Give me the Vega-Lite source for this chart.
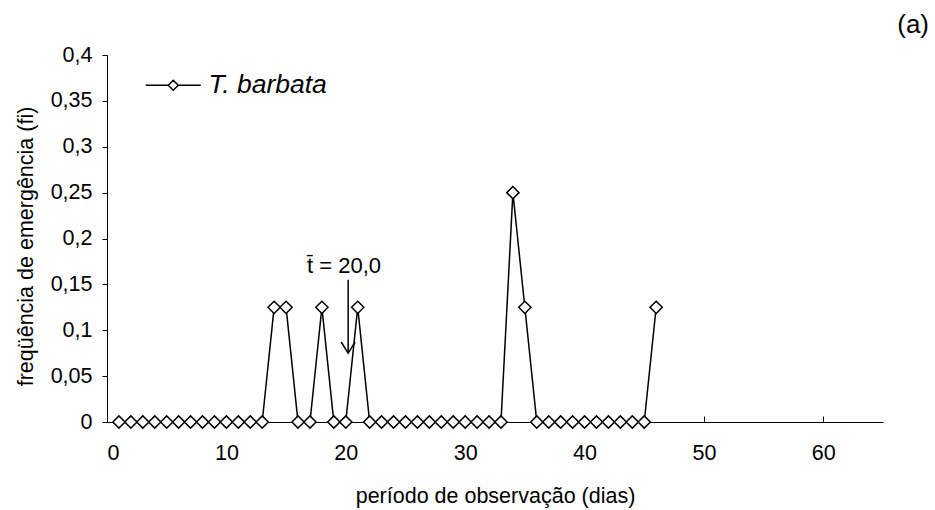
{
  "$schema": "https://vega.github.io/schema/vega-lite/v6.json",
  "width": 776,
  "height": 367,
  "autosize": {"type": "none"},
  "padding": {"left": 107, "top": 55, "right": 52, "bottom": 88},
  "background": "white",
  "config": {
    "view": {"stroke": null},
    "font": "Liberation Sans",
    "axis": {
      "grid": false,
      "domainColor": "black",
      "tickColor": "black",
      "labelColor": "black",
      "titleColor": "black",
      "labelFont": "Liberation Sans",
      "titleFont": "Liberation Sans",
      "labelFontSize": 21.5,
      "titleFontSize": 21.5,
      "titleFontWeight": "normal"
    }
  },
  "title": {
    "text": "(a)",
    "anchor": "end",
    "frame": "group",
    "font": "Liberation Sans",
    "fontSize": 26,
    "fontWeight": "normal",
    "color": "black",
    "baseline": "middle",
    "dx": 46,
    "dy": 41,
    "offset": 34
  },
  "datasets": {
    "main": [
      {"dia": 1, "fi": 0, "serie": "T. barbata"},
      {"dia": 2, "fi": 0, "serie": "T. barbata"},
      {"dia": 3, "fi": 0, "serie": "T. barbata"},
      {"dia": 4, "fi": 0, "serie": "T. barbata"},
      {"dia": 5, "fi": 0, "serie": "T. barbata"},
      {"dia": 6, "fi": 0, "serie": "T. barbata"},
      {"dia": 7, "fi": 0, "serie": "T. barbata"},
      {"dia": 8, "fi": 0, "serie": "T. barbata"},
      {"dia": 9, "fi": 0, "serie": "T. barbata"},
      {"dia": 10, "fi": 0, "serie": "T. barbata"},
      {"dia": 11, "fi": 0, "serie": "T. barbata"},
      {"dia": 12, "fi": 0, "serie": "T. barbata"},
      {"dia": 13, "fi": 0, "serie": "T. barbata"},
      {"dia": 14, "fi": 0.125, "serie": "T. barbata"},
      {"dia": 15, "fi": 0.125, "serie": "T. barbata"},
      {"dia": 16, "fi": 0, "serie": "T. barbata"},
      {"dia": 17, "fi": 0, "serie": "T. barbata"},
      {"dia": 18, "fi": 0.125, "serie": "T. barbata"},
      {"dia": 19, "fi": 0, "serie": "T. barbata"},
      {"dia": 20, "fi": 0, "serie": "T. barbata"},
      {"dia": 21, "fi": 0.125, "serie": "T. barbata"},
      {"dia": 22, "fi": 0, "serie": "T. barbata"},
      {"dia": 23, "fi": 0, "serie": "T. barbata"},
      {"dia": 24, "fi": 0, "serie": "T. barbata"},
      {"dia": 25, "fi": 0, "serie": "T. barbata"},
      {"dia": 26, "fi": 0, "serie": "T. barbata"},
      {"dia": 27, "fi": 0, "serie": "T. barbata"},
      {"dia": 28, "fi": 0, "serie": "T. barbata"},
      {"dia": 29, "fi": 0, "serie": "T. barbata"},
      {"dia": 30, "fi": 0, "serie": "T. barbata"},
      {"dia": 31, "fi": 0, "serie": "T. barbata"},
      {"dia": 32, "fi": 0, "serie": "T. barbata"},
      {"dia": 33, "fi": 0, "serie": "T. barbata"},
      {"dia": 34, "fi": 0.25, "serie": "T. barbata"},
      {"dia": 35, "fi": 0.125, "serie": "T. barbata"},
      {"dia": 36, "fi": 0, "serie": "T. barbata"},
      {"dia": 37, "fi": 0, "serie": "T. barbata"},
      {"dia": 38, "fi": 0, "serie": "T. barbata"},
      {"dia": 39, "fi": 0, "serie": "T. barbata"},
      {"dia": 40, "fi": 0, "serie": "T. barbata"},
      {"dia": 41, "fi": 0, "serie": "T. barbata"},
      {"dia": 42, "fi": 0, "serie": "T. barbata"},
      {"dia": 43, "fi": 0, "serie": "T. barbata"},
      {"dia": 44, "fi": 0, "serie": "T. barbata"},
      {"dia": 45, "fi": 0, "serie": "T. barbata"},
      {"dia": 46, "fi": 0.125, "serie": "T. barbata"}
    ],
    "media": [
      {"dia": 20.2, "inicio": 0.155, "fim": 0.075, "rotulo": "t̄ = 20,0", "rotulo_dia": 19.85, "rotulo_fi": 0.1705}
    ]
  },
  "layer": [
    {
      "data": {"name": "main"},
      "mark": {"type": "line", "strokeWidth": 1.5},
      "encoding": {
        "x": {
          "field": "dia",
          "type": "quantitative",
          "scale": {"domain": [0, 65], "nice": false, "zero": false},
          "axis": {
            "title": "período de observação (dias)",
            "values": [0, 10, 20, 30, 40, 50, 60],
            "tickSize": -6,
            "labelPadding": 26,
            "titleX": 388,
            "titleY": 74,
            "titleBaseline": "middle",
            "titleAlign": "center"
          }
        },
        "y": {
          "field": "fi",
          "type": "quantitative",
          "scale": {"domain": [0, 0.4], "nice": false},
          "axis": {
            "title": "freqüência de emergência (fi)",
            "values": [0, 0.05, 0.1, 0.15, 0.2, 0.25, 0.3, 0.35, 0.4],
            "labelExpr": "replace(format(datum.value, '.2~f'), '.', ',')",
            "tickSize": 5,
            "labelPadding": 10,
            "titleX": -81,
            "titleY": 191,
            "titleAngle": -90,
            "titleBaseline": "middle",
            "titleAlign": "center"
          }
        },
        "color": {
          "field": "serie",
          "type": "nominal",
          "scale": {"range": ["black"]},
          "legend": {
            "orient": "none",
            "legendX": 53,
            "legendY": 17,
            "title": null,
            "padding": 0,
            "symbolType": "M-5.5,0H-1M1,0H5.5M-1,0L0,-1L1,0L0,1Z",
            "symbolSize": 100,
            "symbolStrokeWidth": 1.5,
            "symbolStrokeColor": "black",
            "symbolFillColor": "white",
            "labelFont": "Liberation Sans",
            "labelFontSize": 26.5,
            "labelFontStyle": "italic",
            "labelColor": "black",
            "labelOffset": 22
          }
        }
      }
    },
    {
      "data": {"name": "main"},
      "mark": {"type": "point", "shape": "diamond", "filled": true, "fill": "white", "stroke": "black", "strokeWidth": 1.5, "size": 150, "opacity": 1},
      "encoding": {
        "x": {"field": "dia", "type": "quantitative"},
        "y": {"field": "fi", "type": "quantitative"}
      }
    },
    {
      "data": {"name": "media"},
      "mark": {"type": "rule", "stroke": "black", "strokeWidth": 1.5},
      "encoding": {
        "x": {"field": "dia", "type": "quantitative"},
        "y": {"field": "inicio", "type": "quantitative"},
        "y2": {"field": "fim"}
      }
    },
    {
      "data": {"name": "media"},
      "mark": {"type": "point", "shape": "M-1,-1.6L0,0L1,-1.6", "filled": false, "stroke": "black", "strokeWidth": 1.5, "size": 196, "opacity": 1},
      "encoding": {
        "x": {"field": "dia", "type": "quantitative"},
        "y": {"field": "fim", "type": "quantitative"}
      }
    },
    {
      "data": {"name": "media"},
      "mark": {"type": "text", "font": "Liberation Sans", "fontSize": 22, "color": "black", "align": "center", "baseline": "middle"},
      "encoding": {
        "x": {"field": "rotulo_dia", "type": "quantitative"},
        "y": {"field": "rotulo_fi", "type": "quantitative"},
        "text": {"field": "rotulo"}
      }
    }
  ]
}
